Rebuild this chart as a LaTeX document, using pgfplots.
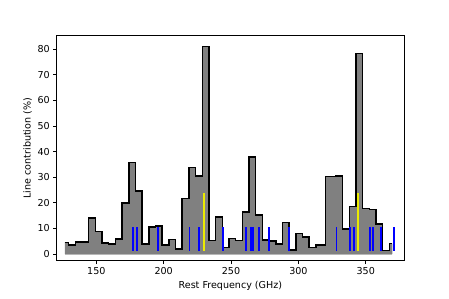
\documentclass[border=0pt]{standalone}
\usepackage{fontspec}
\setmainfont{DejaVu Sans}
\usepackage{pgfplots}
\pgfplotsset{compat=1.18}
\definecolor{ylw}{rgb}{0.92,0.92,0}
\definecolor{mplblue}{rgb}{0,0,1}
\definecolor{mplgray}{rgb}{0.5,0.5,0.5}
\definecolor{lightedge}{rgb}{0.75,0.75,0.75}
\begin{document}
\begin{tikzpicture}
\begin{axis}[
  scale only axis, width=347.3bp, height=225bp,
  xmin=120.6, xmax=378.4, ymin=-2.6, ymax=85.3,
  xtick={150,200,250,300,350}, ytick={0,10,...,80},
  tick align=outside, xtick pos=lower, ytick pos=left,
  major tick length=3.5bp,
  every tick/.style={black, line width=0.8bp},
  axis line style={line width=0.8bp, black},
  tick label style={font=\fontsize{9.6}{11}\selectfont},
  label style={font=\fontsize{9.6}{11}\selectfont},
  /pgf/number format/assume math mode=true,
  xlabel={Rest Frequency (GHz)}, ylabel={Line contribution (\%)},
  xlabel style={at={(axis description cs:0.5,-0.125)}, anchor=base},
  ylabel style={at={(axis description cs:-0.084,0.5)}, anchor=center},
]
% light bottom edge of the fill
\addplot[draw=lightedge, line width=2.4bp, forget plot] coordinates {(126.6,0) (369.75,0)};
% filled step histogram
\addplot[const plot, fill=mplgray, draw=none, forget plot] coordinates {
(126.6,0) (126.6,4.6) (129.48,3.5) (134.44,4.7) (139.40,4.7) (144.36,14.1) (149.32,8.9) (154.28,4.4) (159.23,3.9) (164.19,5.9) (169.15,19.9) (174.11,35.8) (179.07,24.7) (184.03,3.9) (188.99,10.5) (193.95,11.0) (198.91,3.5) (203.87,5.7) (208.83,1.9) (213.78,21.7) (218.74,33.9) (223.70,30.5) (228.66,81.0) (233.62,5.2) (238.58,14.4) (243.54,2.6) (248.50,6.1) (253.46,5.2) (258.42,16.5) (263.38,38.0) (268.33,15.2) (273.29,5.4) (278.25,5.1) (283.21,3.9) (288.17,12.4) (293.13,1.6) (298.09,8.0) (303.05,6.7) (308.01,2.6) (312.97,3.5) (320.3,30.2) (327.85,30.5) (332.80,9.7) (337.76,18.5) (342.72,78.4) (347.68,17.8) (352.64,17.4) (357.60,11.7) (362.56,1.3) (367.52,4.1) (369.75,4.1) (369.75,0)
};
% outline
\addplot[const plot, draw=black, line width=1.5bp, forget plot] coordinates {
(126.6,4.6) (129.48,3.5) (134.44,4.7) (139.40,4.7) (144.36,14.1) (149.32,8.9) (154.28,4.4) (159.23,3.9) (164.19,5.9) (169.15,19.9) (174.11,35.8) (179.07,24.7) (184.03,3.9) (188.99,10.5) (193.95,11.0) (198.91,3.5) (203.87,5.7) (208.83,1.9) (213.78,21.7) (218.74,33.9) (223.70,30.5) (228.66,81.0) (233.62,5.2) (238.58,14.4) (243.54,2.6) (248.50,6.1) (253.46,5.2) (258.42,16.5) (263.38,38.0) (268.33,15.2) (273.29,5.4) (278.25,5.1) (283.21,3.9) (288.17,12.4) (293.13,1.6) (298.09,8.0) (303.05,6.7) (308.01,2.6) (312.97,3.5) (320.3,30.2) (327.85,30.5) (332.80,9.7) (337.76,18.5) (342.72,78.4) (347.68,17.8) (352.64,17.4) (357.60,11.7) (362.56,1.3) (367.52,4.1) (369.75,4.1)
};
% blue line markers
\pgfplotsinvokeforeach{177.0,180.4,195.6,219.2,226.0,244.2,260.9,264.7,266.2,270.6,278.4,292.8,328.3,338.6,341.3,353.3,355.1,361.2,370.8}{
  \addplot[draw=mplblue, line width=1.9bp, forget plot] coordinates {(#1,1.3) (#1,10.7)};
}
% yellow line markers
\pgfplotsinvokeforeach{230.0,344.2}{
  \addplot[draw=ylw, line width=1.3bp, forget plot] coordinates {(#1,1.3) (#1,24.0)};
}
\end{axis}
\path (current axis.south west) ++(-56.7bp,-38.3bp) rectangle ([shift={(45bp,35.7bp)}]current axis.north east);
\end{tikzpicture}
\end{document}
